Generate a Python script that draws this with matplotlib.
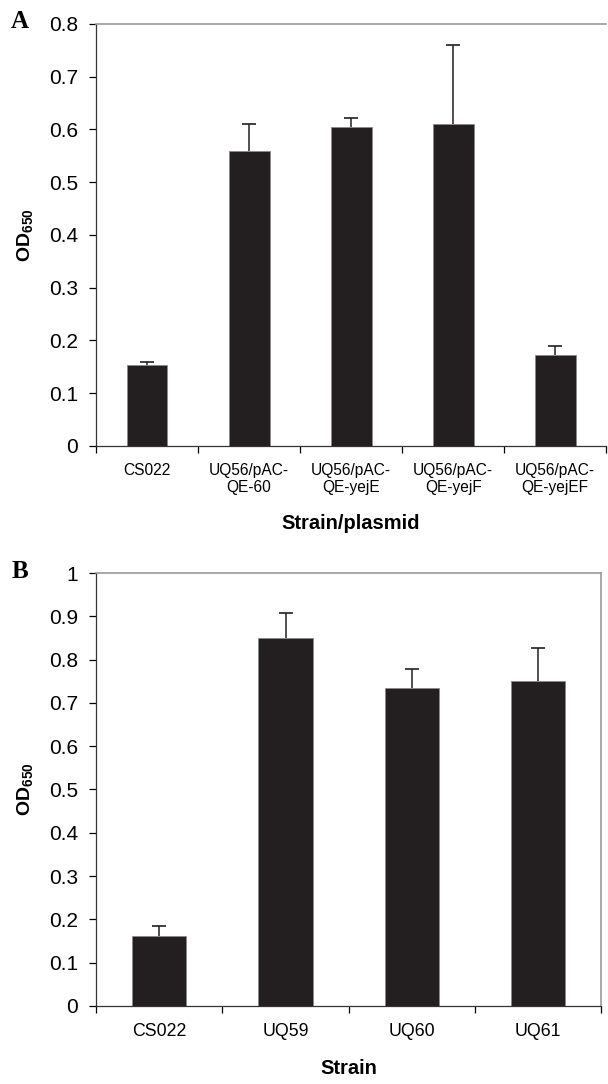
import numpy as np
import matplotlib
matplotlib.use('Agg')
import matplotlib.pyplot as plt

plt.rcParams['font.family'] = ['Liberation Sans', 'DejaVu Sans']
plt.rcParams['mathtext.fontset'] = 'custom'
plt.rcParams['mathtext.rm'] = 'Liberation Sans'
plt.rcParams['mathtext.bf'] = 'Liberation Sans:bold'

# Панель A
labels_a = ['CS022', 'UQ56/pAC-\nQE-60', 'UQ56/pAC-\nQE-yejE',
            'UQ56/pAC-\nQE-yejF', 'UQ56/pAC-\nQE-yejEF']
means_a = [0.154, 0.560, 0.605, 0.611, 0.173]
err_a = [0.005, 0.050, 0.017, 0.150, 0.017]
yticks_a = [0, 0.1, 0.2, 0.3, 0.4, 0.5, 0.6, 0.7, 0.8]
yticklabels_a = ['0', '0.1', '0.2', '0.3', '0.4', '0.5', '0.6', '0.7', '0.8']

# Панель B
labels_b = ['CS022', 'UQ59', 'UQ60', 'UQ61']
means_b = [0.162, 0.849, 0.734, 0.751]
err_b = [0.023, 0.059, 0.044, 0.076]
yticks_b = [0, 0.1, 0.2, 0.3, 0.4, 0.5, 0.6, 0.7, 0.8, 0.9, 1.0]
yticklabels_b = ['0', '0.1', '0.2', '0.3', '0.4', '0.5', '0.6', '0.7', '0.8', '0.9', '1']

BAR = '#231f20'


def draw_panel(ax, labels, means, errs, yticks, yticklabels, xlabel,
               xfont, width, right_spine):
    n = len(labels)
    x = np.arange(n) + 0.5
    means = np.array(means)
    errs = np.array(errs)
    ax.bar(x, means, width=width, color=BAR, edgecolor='#8a8a8a',
           linewidth=0.6, zorder=2)
    # Тільки верхня половина похибки, з "шапкою" лише зверху
    ax.errorbar(x, means, yerr=[np.zeros(n), errs], fmt='none',
                ecolor=BAR, elinewidth=1.1, capsize=0, zorder=3)
    ax.plot(x, means + errs, linestyle='none', marker='_',
            markersize=9.5, markeredgewidth=1.2, color=BAR, zorder=3)
    ax.set_xlim(0, n)
    ax.set_ylim(yticks[0], yticks[-1])
    ax.set_yticks(yticks, yticklabels)
    ax.tick_params(axis='y', direction='out', length=5, width=0.9,
                   pad=8, labelsize=15)
    # Риски на межах категорій, підписи по центру
    ax.set_xticks(np.arange(n + 1), [''] * (n + 1))
    ax.tick_params(axis='x', which='major', direction='out', length=5,
                   width=0.9)
    ax.set_xticks(x, labels, minor=True)
    ax.tick_params(axis='x', which='minor', length=0, pad=12,
                   labelsize=xfont)
    ax.set_xlabel(xlabel, fontsize=14.5, fontweight='bold', labelpad=14)
    ax.set_ylabel(r'$\mathbf{OD_{650}}$', fontsize=14, labelpad=10)
    for s in ['left', 'bottom']:
        ax.spines[s].set_color('#333333')
        ax.spines[s].set_linewidth(0.9)
    ax.spines['top'].set_color('#999999')
    ax.spines['top'].set_linewidth(1.2)
    if right_spine:
        ax.spines['right'].set_color('#999999')
        ax.spines['right'].set_linewidth(1.2)
    else:
        ax.spines['right'].set_visible(False)


fig = plt.figure(figsize=(6.08, 10.84), dpi=100)
ax_a = fig.add_axes([0.158, 0.5886, 0.839, 0.3893])
ax_b = fig.add_axes([0.158, 0.0720, 0.831, 0.3994])

draw_panel(ax_a, labels_a, means_a, err_a, yticks_a, yticklabels_a,
           'Strain/plasmid', 11.2, 0.4, False)
draw_panel(ax_b, labels_b, means_b, err_b, yticks_b, yticklabels_b,
           'Strain', 12.8, 0.43, True)

fig.text(0.033, 0.980, 'A', family=['Liberation Serif', 'DejaVu Serif'],
         fontweight='bold', fontsize=18, va='center', ha='center')
fig.text(0.033, 0.473, 'B', family=['Liberation Serif', 'DejaVu Serif'],
         fontweight='bold', fontsize=18, va='center', ha='center')

fig.savefig('out.png', dpi=100)
